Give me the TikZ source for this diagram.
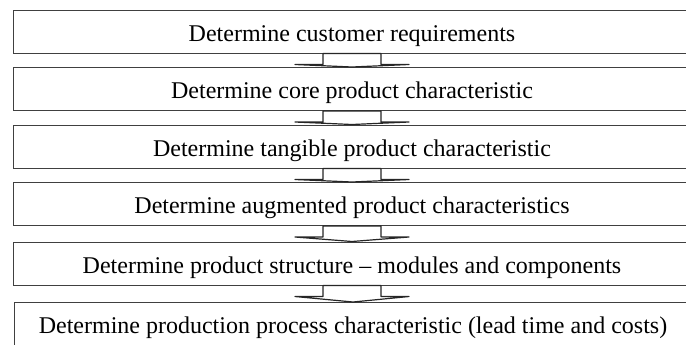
\documentclass[tikz,border=0pt]{standalone}
\usepackage{fontspec}
\setmainfont{Liberation Serif}
\usetikzlibrary{calc}
\tikzstyle{stage}=[draw=black!75,line width=0.5pt,minimum width=339pt,minimum height=21.5pt,inner sep=0pt,text height=11pt,text depth=1.5pt,font=\fontsize{12}{14}\selectfont]
\tikzstyle{flow}=[draw=black!85,line width=0.6pt,fill=white,line join=round]

\begin{document}
\begin{tikzpicture}[x=0.5pt,y=-0.5pt]
    \useasboundingbox (0,0) rectangle (686,344);
    \clip (0,0) rectangle (686,344);
    % First we draw the stages
    \foreach \pos/\name/\text in {{(352,31.5)/cust/Determine customer requirements}, {(352,89)/core/Determine core product characteristic}, {(352,146.5)/tang/Determine tangible product characteristic}, {(352,204)/augm/Determine augmented product characteristics}, {(352,263.5)/struc/Determine product structure – modules and components}, {(353,324)/proc/Determine production process characteristic (lead time and costs)}}
        \node[stage] (\name) at \pos {\text};

    % Connect stages with block arrows
    \foreach \source/\dest in {cust/core, core/tang, tang/augm, augm/struc, struc/proc}
        \path[flow] ($(\source.south)+(-29,0)$) -- ($(\source.south)+(29,0)$) -- ($(\source.south)+(29,11)$) -- ($(\source.south)+(57,11)$) -- (\dest.north) -- ($(\source.south)+(-57,11)$) -- ($(\source.south)+(-29,11)$) -- cycle;

\end{tikzpicture}
\end{document}
